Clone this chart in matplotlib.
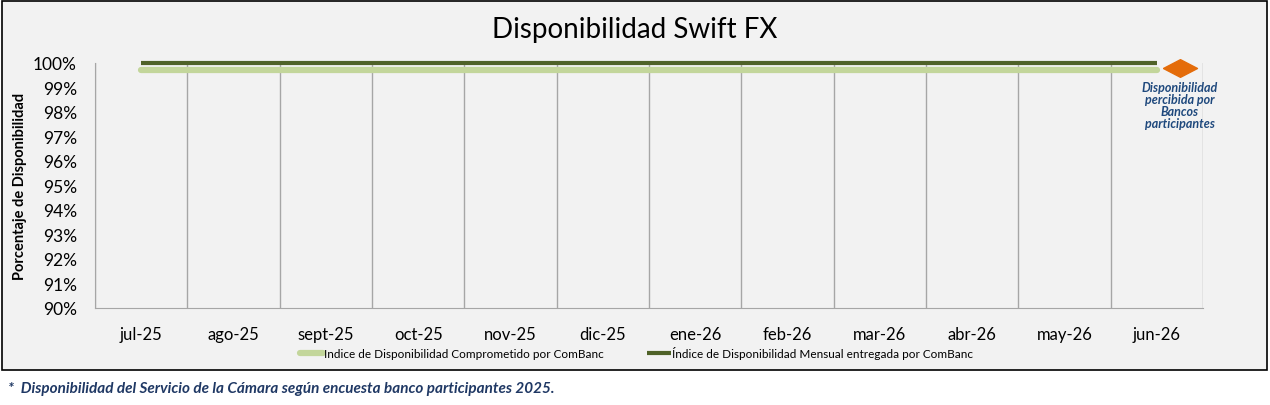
import matplotlib.pyplot as plt
from matplotlib.patches import Rectangle
from matplotlib.ticker import FuncFormatter

months = ['jul-25', 'ago-25', 'sept-25', 'oct-25', 'nov-25', 'dic-25',
          'ene-26', 'feb-26', 'mar-26', 'abr-26', 'may-26', 'jun-26']
comprometido = [99.7, 99.7, 99.7, 99.7, 99.7, 99.7, 99.7, 99.7, 99.7, 99.7, 99.7, 99.7]
entregada = [100, 100, 100, 100, 100, 100, 100, 100, 100, 100, 100, 100]
percibida = 99.8
percibida_x = 11.25

plt.rcParams['font.family'] = ['Lato', 'DejaVu Sans']

fig = plt.figure(figsize=(12.7, 4.06), dpi=100)
fig.patch.set_facecolor('white')
fig.patches.append(Rectangle((2 / 1270, 1 - 371 / 406), 1265 / 1270, 369 / 406,
                             transform=fig.transFigure, facecolor='#f2f2f2',
                             edgecolor='#000000', linewidth=1.2, zorder=-5))

ax = fig.add_axes([95 / 1270, 1 - 309 / 406, 1108 / 1270, 245 / 406])
ax.set_zorder(2)
ax.set_facecolor('none')

x = list(range(len(months)))
ax.plot(x, comprometido, color='#c3d69b', linewidth=4.5, solid_capstyle='round',
        label='Indice de Disponibilidad Comprometido por ComBanc', clip_on=False, zorder=3)
ax.plot(x, entregada, color='#4f6228', linewidth=3, solid_capstyle='butt',
        label='Índice de Disponibilidad Mensual entregada por ComBanc', clip_on=False, zorder=4)
flat_diamond = [(-1, 0), (0, 0.52), (1, 0), (0, -0.52), (-1, 0)]
ax.plot([percibida_x], [percibida], marker=flat_diamond, markersize=24.5, color='#e46c0a',
        linestyle='none', clip_on=False, zorder=5)
ax.text(percibida_x, 99.25, 'Disponibilidad\npercibida por\nBancos\nparticipantes',
        ha='center', va='top', fontsize=9, fontweight='bold', fontstyle='italic',
        color='#1f497d', linespacing=1.0)

ax.set_xlim(-0.5, len(months) - 0.5)
ax.set_ylim(90, 100)
ax.set_yticks(range(90, 101))
ax.yaxis.set_major_formatter(FuncFormatter(lambda v, p: '%d%%' % v))
ax.set_xticks(x)
ax.set_xticklabels(months)
ax.set_xticks([i - 0.5 for i in range(len(months) + 1)], minor=True)
ax.grid(True, which='minor', axis='x', color='#a6a6a6', linewidth=1)
ax.tick_params(axis='both', which='both', length=0)
ax.tick_params(axis='y', labelsize=12.5, pad=13)
ax.tick_params(axis='x', labelsize=12, pad=13)
for s in ['top', 'right']:
    ax.spines[s].set_visible(False)
for s in ['left', 'bottom']:
    ax.spines[s].set_color('#a6a6a6')

ax.set_ylabel('Porcentaje de Disponibilidad', fontsize=10.5, fontweight='bold')
ax.yaxis.set_label_coords(-68 / 1108, 0.5)

fig.text(0.5, 1 - 30 / 406, 'Disponibilidad Swift FX', ha='center', va='center', fontsize=20)

fig.legend(loc='center', bbox_to_anchor=(0.501, 1 - 354 / 406), ncol=2, frameon=False,
           fontsize=8.5, handlelength=1.95, handletextpad=0.1, columnspacing=3.7)

fig.text(8 / 1270, 1 - 389 / 406,
         '*  Disponibilidad del Servicio de la Cámara según encuesta banco participantes 2025.',
         ha='left', va='center', fontsize=11, fontweight='bold', fontstyle='italic',
         color='#1f3864')

fig.savefig('out.png', dpi=100)
